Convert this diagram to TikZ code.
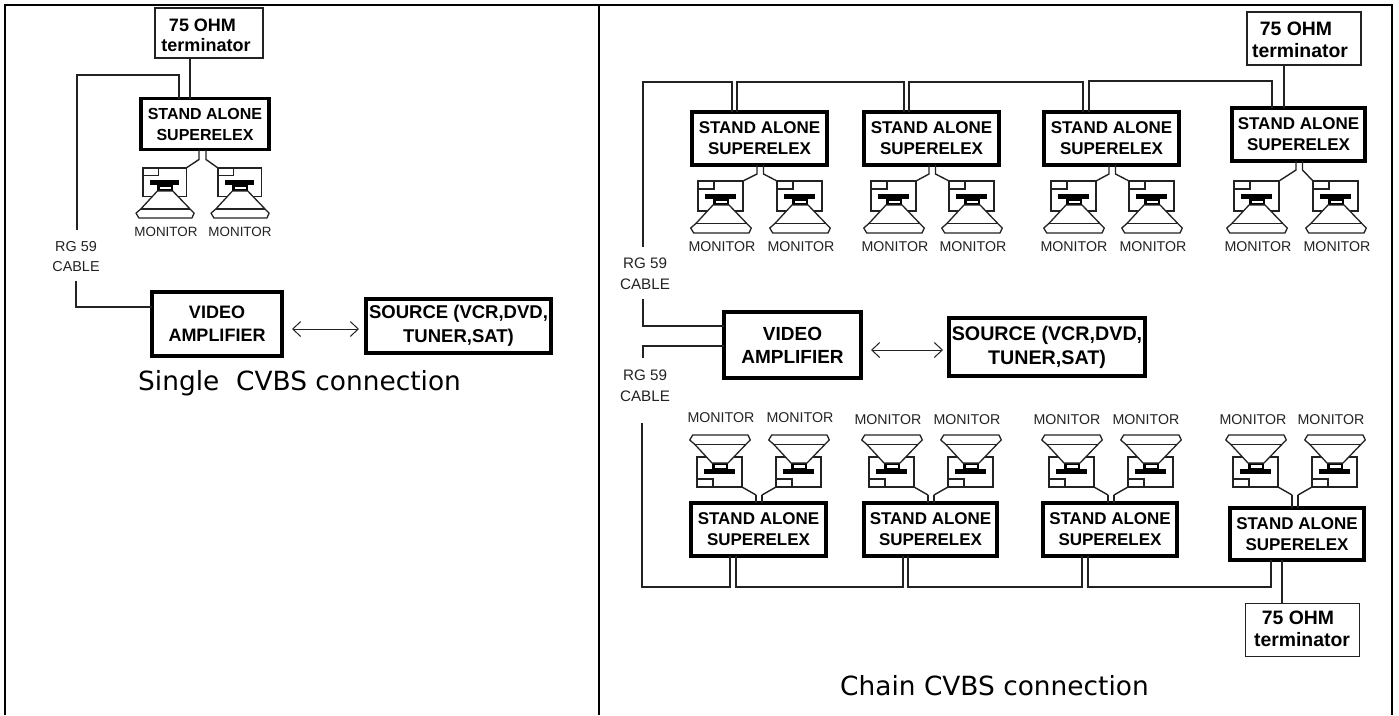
\documentclass[tikz,border=0pt]{standalone}
\usepackage{fontspec}
\setmainfont{Liberation Sans}
\newfontfamily\capfont{DejaVu Sans}
\usetikzlibrary{arrows.meta}
\definecolor{ink}{HTML}{222222}
\tikzset{
  thinbox/.style={draw=ink,line width=1.4pt,rectangle,inner sep=0pt,outer sep=0pt},
  fatbox/.style={draw=black,line width=3.1pt,rectangle,inner sep=0pt,outer sep=0pt,align=center},
  cbl/.style={draw=ink,line width=1.4pt,line join=miter},
  dbl/.style={draw=ink,line width=1pt,{Straight Barb[length=8pt,width=15pt]}-{Straight Barb[length=8pt,width=15pt]}},
  rule/.style={draw=black,line width=2pt},
  lab/.style={inner sep=0pt,align=center,text=black},
  lit/.style={inner sep=0pt,align=center,text=ink},
  capt/.style={inner sep=0pt,anchor=base west,font=\capfont\fontsize{26.4}{30}\selectfont,text=black},
  fL/.style={font=\fontsize{16}{21}\selectfont\bfseries},
  fR/.style={font=\fontsize{17}{21}\selectfont\bfseries},
  aL/.style={font=\fontsize{18}{23}\selectfont\bfseries},
  aR/.style={font=\fontsize{19}{23}\selectfont\bfseries},
  sL/.style={font=\fontsize{18.5}{24}\selectfont\bfseries},
  sR/.style={font=\fontsize{19.7}{24}\selectfont\bfseries},
  tL/.style={font=\fontsize{18}{20}\selectfont\bfseries},
  tR/.style={font=\fontsize{19.4}{22}\selectfont\bfseries},
  mL/.style={font=\fontsize{13.4}{15}\selectfont},
  mR/.style={font=\fontsize{14.2}{16}\selectfont},
  rL/.style={font=\fontsize{14.4}{20}\selectfont},
  rR/.style={font=\fontsize{15.2}{21}\selectfont},
  monpic/.pic={
    \draw[ink,line width=1.3pt] (0,0) rectangle (45,30);
    \draw[ink,line width=1.3pt] (0,8) -- (16,8) -- (16,0);
    \fill[black] (7,13) rectangle (38,18);
    \fill[black] (15,18) rectangle (31,24);
    \fill[white] (17.5,19.5) rectangle (29,21.8);
    \filldraw[draw=ink,fill=white,line width=1.3pt,line join=round]
      (15,24) -- (-2.3,42.7) -- (-7.3,47) -- (-4.3,52) -- (51,52) -- (53.3,47) -- (49,42.7) -- (31,24) -- cycle;
    \draw[ink,line width=1.3pt] (-2.3,42.7) -- (49,42.7);
    \coordinate (-tl) at (0,0);
    \coordinate (-tr) at (45,0);
  }
}
\begin{document}
\begin{tikzpicture}[x=1pt,y=-1pt]
\useasboundingbox (0,0) rectangle (1399,715);
% table rules
\coordinate (tl) at (5,5);\coordinate (tm) at (598.5,5);\coordinate (tr) at (1392,5);
\coordinate (bl) at (5,715);\coordinate (bm) at (598.5,715);\coordinate (br) at (1392,715);
\draw[rule] (bl) -- (tl) -- (tr) -- (br);
\draw[rule] (tm) -- (bm);

% ---------- left diagram
\node[thinbox,minimum width=108pt,minimum height=50pt] (Lterm) at (209,33) {};
\node[lab,tL] (Ltermt) at (206,35) {75 OHM\hspace*{7pt}\\terminator};
\node[fatbox,fL,minimum width=128pt,minimum height=51pt] (Lbox) at (205,124) {STAND ALONE\\SUPERELEX};
\pic[scale=.96] (Lm1) at (143,168) {monpic};
\pic[scale=.96] (Lm2) at (218,168) {monpic};
\node[lit,mL] (Lml1) at (166,232) {MONITOR};
\node[lit,mL] (Lml2) at (240,232) {MONITOR};
\draw[cbl] ([xshift=-6pt]Lbox.south) -- ++(0,10) -- (Lm1-tr);
\draw[cbl] ([xshift=1pt]Lbox.south) -- ++(0,10) -- (Lm2-tl);
\draw[cbl] (Lterm.south -| 190,0) -- (Lbox.north -| 190,0);
\coordinate (Lc1) at (77,230);
\draw[cbl] (Lc1) -- (77,75) -- (179,75) -- (Lbox.north -| 179,0);
\node[lit,rL] (Lrg) at (76,257) {RG 59\\CABLE};
\node[fatbox,aL,minimum width=130pt,minimum height=64pt] (Lamp) at (217,324) {VIDEO\\AMPLIFIER};
\coordinate (Lc2) at (76,281);
\draw[cbl] (Lc2) -- (76,307) -- (Lamp.west |- 0,307);
\node[fatbox,sL,minimum width=185pt,minimum height=54pt] (Lsrc) at (458.5,326) {SOURCE (VCR,DVD,\\TUNER,SAT)};
\draw[dbl,shorten <=10pt,shorten >=7pt] (Lamp.east |- 0,329) -- (Lsrc.west |- 0,329);
\node[capt] (Lcap) at (138,390) {Single\ \ CVBS connection};

% ---------- right diagram, upper row
\node[thinbox,minimum width=114pt,minimum height=53pt] (Tterm) at (1304,38.5) {};
\node[lab,tR] (Ttermt) at (1300,40) {75 OHM\hspace*{8pt}\\terminator};
\foreach \n/\xa/\xb/\ya/\yb/\ma/\mb/\la/\lb in {
  1/691/828/111/166/698/777/722/801,
  2/863/1000/111/166/871/949/895/973,
  3/1043/1180/111/166/1051/1129/1074/1153,
  4/1231/1366/107/162/1234/1313/1258/1337}{
  \pgfmathsetmacro\cx{(\xa+\xb)/2}
  \pgfmathsetmacro\cy{(\ya+\yb)/2}
  \pgfmathsetmacro\w{\xb-\xa-2}
  \pgfmathsetmacro\h{\yb-\ya-2}
  \node[fatbox,fR,minimum width=\w pt,minimum height=\h pt] (T\n) at (\cx,\cy) {STAND ALONE\\SUPERELEX};
  \pic (Tm\n a) at (\ma,181) {monpic};
  \pic (Tm\n b) at (\mb,181) {monpic};
  \node[lit,mR] (Tl\n a) at (\la,247) {MONITOR};
  \node[lit,mR] (Tl\n b) at (\lb,247) {MONITOR};
  \draw[cbl] ([xshift=-2.5pt]T\n.south) -- ++(0,9) -- (Tm\n a-tr);
  \draw[cbl] ([xshift=4pt]T\n.south) -- ++(0,9) -- (Tm\n b-tl);
}
\draw[cbl] (Tterm.south -| 1284,0) -- (T4.north -| 1284,0);
\coordinate (Tc1) at (643,299);
\coordinate (Tc0) at (643,247);
\draw[cbl] (Tc0) -- (643,82) -- (732,82) -- (T1.north -| 732,0);
\draw[cbl] (T1.north -| 737,0) -- (737,82) -- (904,82) -- (T2.north -| 904,0);
\draw[cbl] (T2.north -| 909,0) -- (909,82) -- (1083,82) -- (T3.north -| 1083,0);
\draw[cbl] (T3.north -| 1089,0) -- (1089,81) -- (1272,81) -- (T4.north -| 1272,0);
\node[lit,rR] (Rrg1) at (645,274) {RG 59\\CABLE};

% ---------- right diagram, centre
\node[fatbox,aR,minimum width=137pt,minimum height=66pt] (Ramp) at (792.5,345) {VIDEO\\AMPLIFIER};
\draw[cbl] (Tc1) -- (643,326) -- (Ramp.west |- 0,326);
\coordinate (Bc1) at (643,358);
\draw[cbl] (Ramp.west |- 0,346) -- (643,346) -- (Bc1);
\node[fatbox,sR,minimum width=196pt,minimum height=58pt] (Rsrc) at (1047,347) {SOURCE (VCR,DVD,\\TUNER,SAT)};
\draw[dbl,shorten <=10pt,shorten >=6pt] (Ramp.east |- 0,350) -- (Rsrc.west |- 0,350);
\node[lit,rR] (Rrg2) at (645,385.5) {RG 59\\CABLE};

% ---------- right diagram, lower row
\foreach \n/\xa/\xb/\ya/\yb/\ma/\mb/\la/\lb/\ly/\da/\db in {
  1/690/827/502/557/697/776/721/800/418/-2.5/3.5,
  2/863/998/502/557/869/948/888/967/420/-2.5/3.5,
  3/1042/1178/502/557/1049/1128/1067/1146/420/-2/4,
  4/1229/1365/507/561/1233/1312/1253/1331/420/-5/1}{
  \pgfmathsetmacro\cx{(\xa+\xb)/2}
  \pgfmathsetmacro\cy{(\ya+\yb)/2}
  \pgfmathsetmacro\w{\xb-\xa-2}
  \pgfmathsetmacro\h{\yb-\ya-2}
  \node[fatbox,fR,minimum width=\w pt,minimum height=\h pt] (B\n) at (\cx,\cy) {STAND ALONE\\SUPERELEX};
  \pic[yscale=-1] (Bm\n a) at (\ma,487) {monpic};
  \pic[yscale=-1] (Bm\n b) at (\mb,487) {monpic};
  \node[lit,mR] (Bl\n a) at (\la,\ly) {MONITOR};
  \node[lit,mR] (Bl\n b) at (\lb,\ly) {MONITOR};
  \draw[cbl] ([xshift=\da pt]B\n.north |- 0,495) -- ([xshift=\da pt]B\n.north);
  \draw[cbl] ([xshift=\db pt]B\n.north |- 0,495) -- ([xshift=\db pt]B\n.north);
  \draw[cbl] ([xshift=\da pt]B\n.north |- 0,495) -- (Bm\n a-tr);
  \draw[cbl] ([xshift=\db pt]B\n.north |- 0,495) -- (Bm\n b-tl);
}
\coordinate (Bc0) at (642,423);
\draw[cbl] (Bc0) -- (642,587) -- (730,587) -- (B1.south -| 730,0);
\draw[cbl] (B1.south -| 736,0) -- (736,587) -- (903,587) -- (B2.south -| 903,0);
\draw[cbl] (B2.south -| 908,0) -- (908,587) -- (1082,587) -- (B3.south -| 1082,0);
\draw[cbl] (B3.south -| 1088,0) -- (1088,587) -- (1271,587) -- (B4.south -| 1271,0);
\node[thinbox,minimum width=114pt,minimum height=53pt] (Bterm) at (1302.5,630) {};
\node[lab,tR] (Btermt) at (1302,629) {75 OHM\hspace*{8pt}\\terminator};
\draw[cbl] (B4.south -| 1282,0) -- (Bterm.north -| 1282,0);
\node[capt] (Rcap) at (840,695) {Chain CVBS connection};
\end{tikzpicture}
\end{document}
